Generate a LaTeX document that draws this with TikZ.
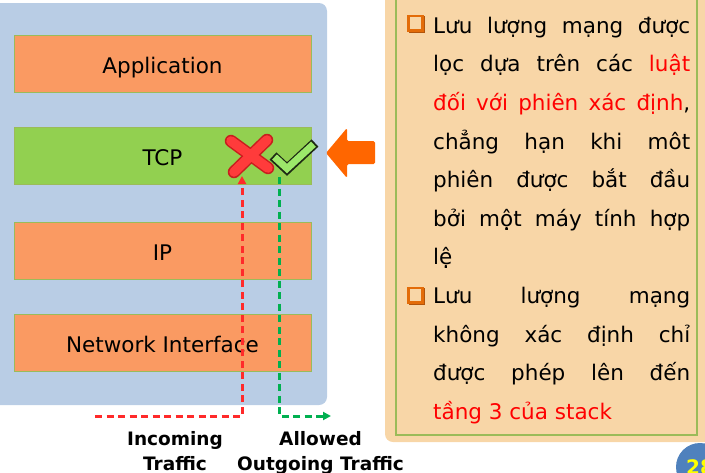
\documentclass[tikz,border=0pt]{standalone}
\usepackage{fontspec}
\setmainfont{DejaVu Sans}
\usetikzlibrary{arrows.meta}
\definecolor{panelblue}{HTML}{B9CDE5}
\definecolor{layerorange}{HTML}{FA9A62}
\definecolor{layergreen}{HTML}{92D050}
\definecolor{layeredge}{HTML}{9BBB59}
\definecolor{beige}{HTML}{F8D6A7}
\definecolor{arroworange}{HTML}{FF6600}
\definecolor{bulletorange}{HTML}{E36C09}
\definecolor{bulletshadow}{HTML}{B2540A}
\definecolor{txtred}{HTML}{FF0000}
\definecolor{dashred}{HTML}{FF2A2A}
\definecolor{dashgreen}{HTML}{00B050}
\definecolor{xred}{HTML}{FF3B3B}
\definecolor{xdark}{HTML}{C81E1E}
\definecolor{chkgreen}{HTML}{9CE86A}
\definecolor{chkdark}{HTML}{1E2A14}
\definecolor{pageblue}{HTML}{4F81BD}
\definecolor{pageyellow}{HTML}{FFFF00}
\begin{document}
\begin{tikzpicture}[x=1pt,y=-1pt,
  layer/.style={draw=layeredge, line width=1pt, minimum width=297pt, minimum height=57pt,
    inner sep=0pt, text height=20pt, text depth=0.5pt, font=\fontsize{21.5}{25}\selectfont},
  bodytext/.style={anchor=base west, inner sep=0pt, font=\fontsize{21.5}{26}\selectfont},
  flowlabel/.style={anchor=north, inner sep=0pt, align=center, font=\fontsize{18.5}{25}\selectfont\bfseries},
  dashline/.style={line width=3pt, dash pattern=on 7pt off 4.5pt},
  bulletbox/.style={draw=bulletorange, line width=2.2pt}
]
\useasboundingbox (0,0) rectangle (705,472);
% left panel
\fill[panelblue, rounded corners=8pt] (-20,3) rectangle (327,405);
\node[layer, fill=layerorange] (app) at (162.5,64) {Application};
\node[layer, fill=layergreen] (tcp) at (162.5,156) {TCP};
\node[layer, fill=layerorange] (ip) at (162.5,251) {IP};
\node[layer, fill=layerorange] (ni) at (162.5,343) {Network Interface};
% right panel
\fill[beige, rounded corners=8pt] (385,-20) rectangle (725,442);
\draw[layeredge, line width=1.5pt] (396,-10) rectangle (697,435);
% orange arrow
\fill[arroworange, rounded corners=1.5pt] (326,153) -- (347,128) -- (347,141) -- (375,141)
  -- (375,164) -- (347,164) -- (347,178) -- cycle;
% flows
\coordinate (inStart) at (95,416);
\coordinate (block) at (242,176);
\coordinate (pass) at (279,177);
\coordinate (outEnd) at (331,416);
\draw[dashline, draw=dashred, -{Triangle[length=8pt,width=8pt]}] (inStart) -| (block);
\draw[dashline, draw=dashgreen, -{Triangle[length=8pt,width=8pt]}] (pass) |- (outEnd);
% red cross
\draw[xdark, line width=12.5pt, line cap=round] (231,141) -- (268,168) (267,140) -- (234,172);
\draw[xred, line width=9.5pt, line cap=round] (231,141) -- (268,168) (267,140) -- (234,172);
% green check
\draw[chkdark, line width=10pt, line join=miter] (273,156) -- (287,169) -- (315,143);
\draw[chkgreen, line width=7pt, line join=miter] (274.5,157) -- (287,168.5) -- (313.5,144.2);
% labels
\node[flowlabel] (inlbl) at (175,431) {Incoming\\Traffic};
\node[flowlabel] (outlbl) at (320.5,431) {Allowed\\Outgoing Traffic};
% bullets
\draw[bulletshadow, line width=2.2pt] (410,17.5) rectangle (424,32);
\draw[bulletbox, fill=beige] (408.5,16) rectangle (422.5,30.5);
\draw[bulletshadow, line width=2.2pt] (410,289.5) rectangle (424,304);
\draw[bulletbox, fill=beige] (408.5,288) rectangle (422.5,302.5);
% body text
\node[bodytext] (l1) at (433,33.3) {\makebox[257pt][s]{Lưu lượng mạng được}};
\node[bodytext] (l2) at (433,71.9) {\makebox[257pt][s]{lọc dựa trên các \textcolor{txtred}{luật}}};
\node[bodytext] (l3) at (433,110.5) {\makebox[257pt][s]{\textcolor{txtred}{đối với phiên xác định},}};
\node[bodytext] (l4) at (433,149.1) {\makebox[257pt][s]{chẳng hạn khi môt}};
\node[bodytext] (l5) at (433,187.7) {\makebox[257pt][s]{phiên được bắt đầu}};
\node[bodytext] (l6) at (433,226.3) {\makebox[257pt][s]{bởi một máy tính hợp}};
\node[bodytext] (l7) at (433,264.9) {lệ};
\node[bodytext] (l8) at (433,303.5) {\makebox[257pt][s]{Lưu lượng mạng}};
\node[bodytext] (l9) at (433,342.1) {\makebox[257pt][s]{không xác định chỉ}};
\node[bodytext] (l10) at (433,380.7) {\makebox[257pt][s]{được phép lên đến}};
\node[bodytext] (l11) at (433,419.3) {\textcolor{txtred}{tầng 3 của stack}};
% page number
\fill[pageblue] (700,467) circle (24);
\node[text=pageyellow, font=\fontsize{20}{24}\selectfont\bfseries] (page) at (700,467) {28};
\end{tikzpicture}
\end{document}
